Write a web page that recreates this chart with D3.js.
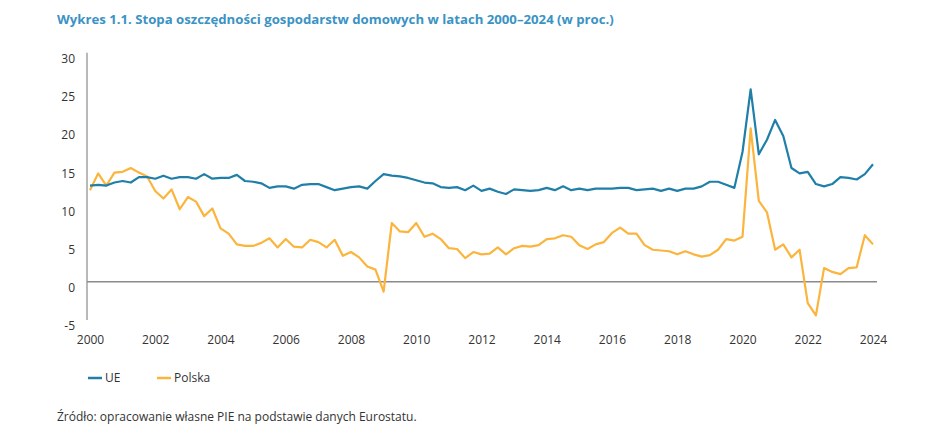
<!DOCTYPE html>
<html>
<head>
<meta charset="utf-8">
<script src="https://cdn.jsdelivr.net/npm/d3@7"></script>
<style>
  body { margin: 0; background: #fff; }
  svg text { font-family: "Open Sans", sans-serif; }
</style>
</head>
<body>
<svg id="chart" width="948" height="429"></svg>
<script>
// quarterly data, 2000 Q1 .. 2024 Q1
const yearLabels = ["2000", "2002", "2004", "2006", "2008", "2010", "2012", "2014",
                    "2016", "2018", "2020", "2022", "2024"];
const yTicks = [-5, 0, 5, 10, 15, 20, 25, 30];

const ue = [12.6, 12.7, 12.6, 13.0, 13.2, 13.0, 13.7, 13.7, 13.5, 13.9, 13.5, 13.7,
            13.7, 13.5, 14.1, 13.5, 13.6, 13.6, 14.0, 13.2, 13.1, 12.9, 12.3, 12.5,
            12.5, 12.2, 12.7, 12.8, 12.8, 12.4, 12.0, 12.2, 12.4, 12.5, 12.2, 13.2,
            14.1, 13.9, 13.8, 13.6, 13.3, 13.0, 12.9, 12.4, 12.3, 12.4, 12.0, 12.6,
            11.9, 12.2, 11.8, 11.5, 12.1, 12.0, 11.9, 12.0, 12.3, 12.0, 12.5, 12.0,
            12.2, 12.0, 12.2, 12.2, 12.2, 12.3, 12.3, 12.0, 12.1, 12.2, 11.9, 12.2,
            11.9, 12.2, 12.2, 12.5, 13.1, 13.1, 12.7, 12.3, 17.0, 25.2, 16.7, 18.6,
            21.2, 19.1, 14.9, 14.2, 14.4, 12.8, 12.5, 12.8, 13.7, 13.6, 13.4, 14.1,
            15.4];

const polska = [12.0, 14.2, 12.6, 14.3, 14.4, 14.9, 14.3, 13.8, 11.9, 10.9, 12.1, 9.5,
                11.1, 10.5, 8.6, 9.6, 7.0, 6.3, 4.9, 4.7, 4.7, 5.1, 5.7, 4.5,
                5.6, 4.6, 4.5, 5.5, 5.2, 4.5, 5.5, 3.4, 3.9, 3.2, 2.0, 1.6,
                -1.3, 7.7, 6.6, 6.5, 7.7, 5.9, 6.3, 5.6, 4.4, 4.3, 3.1, 3.9,
                3.6, 3.7, 4.5, 3.6, 4.4, 4.7, 4.6, 4.8, 5.6, 5.7, 6.1, 5.9,
                4.8, 4.3, 4.9, 5.2, 6.4, 7.1, 6.3, 6.3, 4.8, 4.2, 4.1, 4.0,
                3.6, 4.0, 3.6, 3.3, 3.5, 4.2, 5.6, 5.4, 5.9, 20.1, 10.6, 9.1,
                4.2, 4.9, 3.2, 4.2, -2.8, -4.4, 1.8, 1.3, 1.0, 1.8, 1.9, 6.1,
                4.9];

const blue = "#1f7fa8";
const orange = "#fbb43c";
const textCol = "#333333";

const svg = d3.select("#chart");

const x = d3.scaleLinear().domain([0, ue.length - 1]).range([90, 873]);
const y = d3.scaleLinear().domain([-5, 30]).range([320, 52.7]);

// title
svg.append("text")
    .attr("x", 57)
    .attr("y", 24)
    .attr("fill", "#3a93c4")
    .attr("font-size", 13.2)
    .attr("font-weight", "bold")
    .text("Wykres 1.1. Stopa oszczędności gospodarstw domowych w latach 2000–2024 (w proc.)");

// y axis
svg.append("line")
    .attr("x1", 87).attr("x2", 87)
    .attr("y1", y(30)).attr("y2", y(-5))
    .attr("stroke", "#8a8a8a")
    .attr("stroke-width", 1.2);

const yAxis = svg.append("g")
    .attr("transform", "translate(87,0)")
    .call(d3.axisLeft(y).tickValues(yTicks).tickFormat(d => String(d))
        .tickSize(0).tickPadding(12));
yAxis.select(".domain").remove();
yAxis.selectAll("text")
    .attr("y", 6)
    .attr("fill", textCol)
    .attr("font-size", 12)
    .attr("font-family", "Open Sans, sans-serif");

// zero line
svg.append("line")
    .attr("x1", 87).attr("x2", 877)
    .attr("y1", y(0)).attr("y2", y(0))
    .attr("stroke", "#8a8a8a")
    .attr("stroke-width", 1.5);

// x labels, one every 8 quarters
const xAxis = svg.append("g")
    .attr("transform", "translate(0,331)")
    .call(d3.axisBottom(x)
        .tickValues(yearLabels.map((d, i) => i * 8))
        .tickFormat((d, i) => yearLabels[i])
        .tickSize(0)
        .tickPadding(4));
xAxis.select(".domain").remove();
xAxis.selectAll("text")
    .attr("fill", textCol)
    .attr("font-size", 12)
    .attr("font-family", "Open Sans, sans-serif");

// lines
const line = d3.line()
    .x((d, i) => x(i))
    .y(d => y(d));

svg.append("path")
    .datum(polska)
    .attr("d", line)
    .attr("fill", "none")
    .attr("stroke", orange)
    .attr("stroke-width", 2.2)
    .attr("stroke-linejoin", "round");

svg.append("path")
    .datum(ue)
    .attr("d", line)
    .attr("fill", "none")
    .attr("stroke", blue)
    .attr("stroke-width", 2.2)
    .attr("stroke-linejoin", "round");

// legend
const legend = [
    { name: "UE", color: blue, x: 88 },
    { name: "Polska", color: orange, x: 157 }
];
const lg = svg.selectAll(".legend")
    .data(legend)
    .enter()
    .append("g")
    .attr("class", "legend")
    .attr("transform", d => `translate(${d.x},378)`);
lg.append("line")
    .attr("x1", 0).attr("x2", 14)
    .attr("stroke", d => d.color)
    .attr("stroke-width", 2.5);
lg.append("text")
    .attr("x", 17)
    .attr("y", 4)
    .attr("fill", textCol)
    .attr("font-size", 12)
    .text(d => d.name);

// source
svg.append("text")
    .attr("x", 57)
    .attr("y", 421)
    .attr("fill", textCol)
    .attr("font-size", 12)
    .text("Źródło: opracowanie własne PIE na podstawie danych Eurostatu.");
</script>
</body>
</html>
